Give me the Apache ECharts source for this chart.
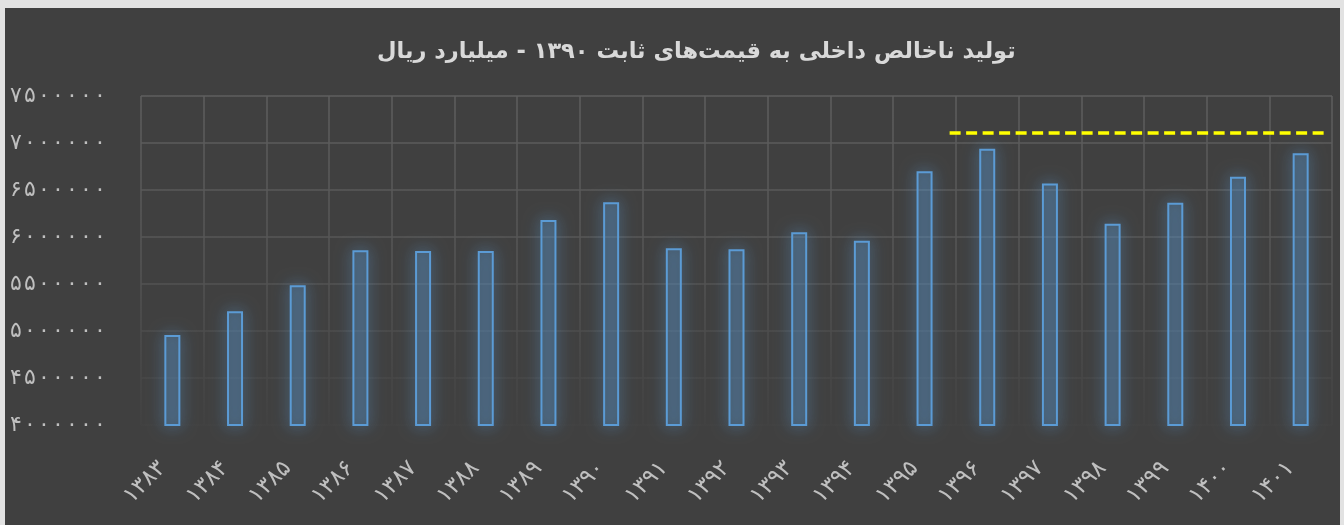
<!DOCTYPE html>
<html><head><meta charset="utf-8">
<script src="https://cdn.jsdelivr.net/npm/echarts@6/dist/echarts.min.js"></script>
<style>
html,body{margin:0;padding:0;background:#e2e2e2;width:1344px;height:525px;overflow:hidden}
#c{position:absolute;left:5px;top:8px;width:1335px;height:517px}
</style></head><body><div id="c"></div>
<script>
const titleText = 'تولید ناخالص داخلی به قیمت‌های ثابت ۱۳۹۰ - میلیارد ریال';
const years = ['۱۳۸۳','۱۳۸۴','۱۳۸۵','۱۳۸۶','۱۳۸۷','۱۳۸۸','۱۳۸۹','۱۳۹۰','۱۳۹۱','۱۳۹۲','۱۳۹۳','۱۳۹۴','۱۳۹۵','۱۳۹۶','۱۳۹۷','۱۳۹۸','۱۳۹۹','۱۴۰۰','۱۴۰۱'];
const gdp = [4957000,5210000,5486000,5860000,5850000,5850000,6180000,6370000,5880000,5870000,6050000,5960000,6700000,6940000,6570000,6140000,6365000,6640000,6890000];
const refLineX = [12.9, 18.88];
const refLineValue = 7106000;
const yMin = 4000000, yMax = 7500000, yStep = 500000;

function toFa(n){ return String(n).replace(/\d/g, d => '۰۱۲۳۴۵۶۷۸۹'[d]); }

const chart = echarts.init(document.getElementById('c'));
const fade = new echarts.graphic.LinearGradient(0, 88, 0, 417, [
  {offset:0, color:'#5e5e5e'},{offset:0.5, color:'#555555'},{offset:1, color:'#424242'}], true);
chart.setOption({
  backgroundColor:'#404040',
  animation:false,
  title:{text:titleText, left:367, top:28,
    textStyle:{color:'#d9d9d9', fontSize:22.5, fontWeight:'bold', fontFamily:'DejaVu Sans'}},
  grid:{left:136, right:8, top:88, bottom:100},
  xAxis:[{type:'category', data:years, boundaryGap:true,
    axisLine:{show:false}, axisTick:{show:false},
    splitLine:{show:true, interval:0, lineStyle:{color:fade, width:1.5}},
    axisLabel:{interval:0, rotate:45, margin:30, padding:[0,14,0,0], color:'#bfbfbf', fontSize:23, fontFamily:'DejaVu Sans'}},
   {type:'value', min:0, max:years.length, show:false}],
  yAxis:{type:'value', min:yMin, max:yMax, interval:yStep,
    axisLine:{show:false}, axisTick:{show:false},
    splitLine:{lineStyle:{color:fade, width:1.5}},
    axisLabel:{align:'left', margin:131, color:'#bfbfbf', fontSize:22, fontFamily:'DejaVu Sans',
      formatter:v => toFa(v).split('').join('\u200A')}},
  series:[{type:'bar', data:gdp, barWidth:16, xAxisIndex:0,
    itemStyle:{color:'rgba(91,155,213,0.22)', borderColor:'#5b9bd5', borderWidth:2,
      shadowBlur:16, shadowColor:'rgba(91,155,213,0.9)'}},
   {type:'line', xAxisIndex:1, data:refLineX.map(x=>[x,refLineValue]), symbol:'none',
    lineStyle:{color:'#ffff00', width:3.5, type:[11,5.5]}}]
});
</script></body></html>
